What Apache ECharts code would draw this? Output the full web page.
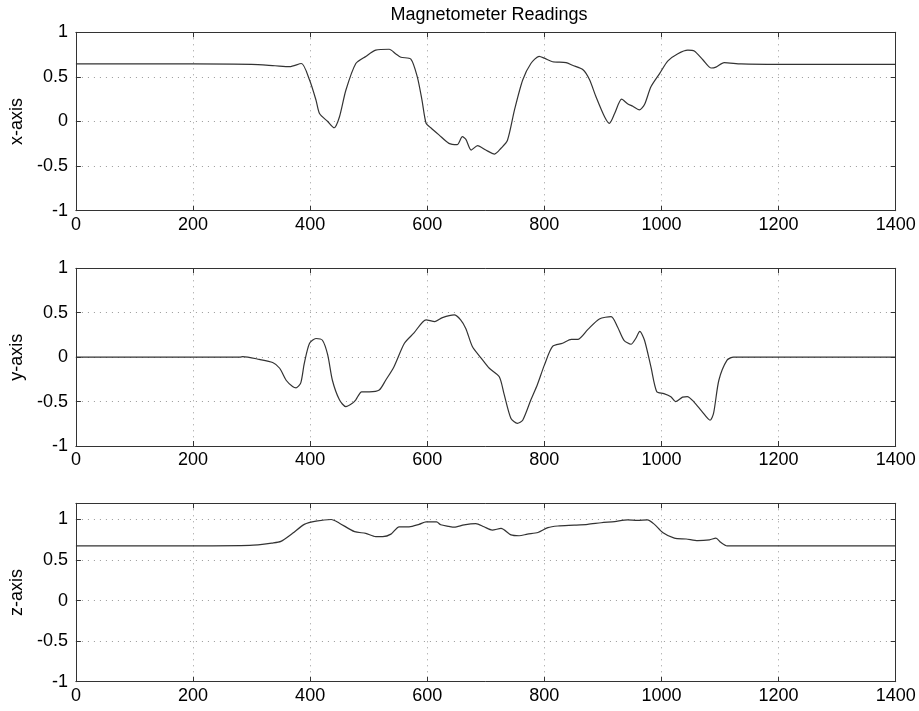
<!DOCTYPE html>
<html>
<head>
<meta charset="utf-8">
<script src="https://cdn.jsdelivr.net/npm/echarts@6/dist/echarts.min.js"></script>
<style>
html,body{margin:0;padding:0;background:#fff;}
#chart{width:919px;height:711px;}
</style>
</head>
<body>
<div id="chart"></div>
<script>
var titleText = "Magnetometer Readings";
var axisNames = ["x-axis", "y-axis", "z-axis"];
var xTicks = [0, 200, 400, 600, 800, 1000, 1200, 1400];

var bx = [[0,0.645],[100,0.645],[200,0.645],[300,0.64],[340,0.625],[365,0.615],[385,0.65],[399,0.465],[410,0.24],[416,0.09],[430,0.0],[441,-0.07],[450,0.05],[461,0.35],[478,0.65],[495,0.73],[512,0.80],[535,0.81],[546,0.76],[555,0.72],[572,0.70],[583,0.50],[591,0.24],[598,-0.02],[606,-0.07],[620,-0.15],[637,-0.245],[651,-0.26],[660,-0.17],[666,-0.2],[675,-0.32],[686,-0.27],[700,-0.32],[715,-0.365],[726,-0.30],[737,-0.21],[749,0.13],[763,0.465],[777,0.65],[791,0.73],[800,0.71],[814,0.67],[837,0.66],[848,0.63],[866,0.58],[877,0.47],[888,0.28],[903,0.05],[911,-0.02],[920,0.09],[932,0.25],[942,0.20],[951,0.17],[962,0.13],[971,0.19],[982,0.39],[997,0.54],[1011,0.68],[1028,0.76],[1045,0.80],[1056,0.79],[1071,0.69],[1085,0.60],[1093,0.61],[1107,0.66],[1136,0.645],[1200,0.64],[1300,0.64],[1400,0.64]];

var by = [[0,0],[100,0],[200,0],[280,0],[285,0.006],[313,-0.025],[336,-0.06],[348,-0.125],[359,-0.26],[370,-0.33],[376,-0.345],[384,-0.29],[390,-0.07],[399,0.156],[410,0.21],[421,0.19],[430,0.025],[438,-0.26],[450,-0.48],[461,-0.557],[472,-0.52],[478,-0.48],[488,-0.39],[501,-0.39],[518,-0.37],[529,-0.26],[543,-0.11],[561,0.156],[577,0.27],[598,0.42],[613,0.40],[626,0.445],[646,0.475],[657,0.42],[666,0.32],[677,0.12],[692,-0.01],[706,-0.125],[723,-0.22],[731,-0.41],[743,-0.69],[754,-0.745],[763,-0.71],[777,-0.48],[788,-0.31],[800,-0.09],[814,0.12],[831,0.156],[846,0.20],[857,0.20],[874,0.31],[894,0.43],[914,0.456],[925,0.34],[936,0.19],[948,0.145],[956,0.21],[963,0.29],[971,0.19],[982,-0.11],[992,-0.39],[1004,-0.41],[1016,-0.445],[1024,-0.50],[1036,-0.45],[1044,-0.445],[1055,-0.50],[1069,-0.61],[1083,-0.71],[1089,-0.63],[1098,-0.26],[1112,-0.034],[1123,0],[1200,0],[1300,0],[1400,0]];

var bz = [[0,0.675],[100,0.675],[200,0.675],[297,0.68],[336,0.71],[350,0.73],[370,0.83],[390,0.94],[410,0.98],[436,1.0],[450,0.955],[476,0.85],[495,0.83],[512,0.79],[524,0.79],[538,0.82],[552,0.91],[569,0.91],[586,0.94],[598,0.97],[616,0.97],[623,0.935],[637,0.915],[646,0.905],[663,0.935],[683,0.95],[697,0.91],[711,0.87],[726,0.89],[743,0.81],[757,0.80],[771,0.82],[789,0.84],[806,0.90],[823,0.92],[851,0.93],[874,0.94],[897,0.96],[920,0.975],[942,0.995],[959,0.99],[976,0.995],[988,0.94],[1002,0.84],[1022,0.77],[1042,0.76],[1062,0.74],[1082,0.75],[1093,0.77],[1101,0.72],[1112,0.675],[1200,0.675],[1300,0.675],[1400,0.675]];

var seriesData = [bx, by, bz];
var yMax = [1, 1, 1.2];

var FONT = "Liberation Sans";
var frameColor = "#333";
var gridDefs = [
  {left: 72.7, top: 32.3, width: 823, height: 178.4},
  {left: 72.7, top: 268.3, width: 823, height: 177.7},
  {left: 72.7, top: 503.3, width: 823, height: 178.4}
];

var xAxes = [], yAxes = [], series = [];
gridDefs.forEach(function (g, i) {
  xAxes.push({
    type: 'value', gridIndex: i, min: 0, max: 1400, interval: 200, position: 'bottom',
    axisLine: {show: true, onZero: false, lineStyle: {color: frameColor, width: 1}},
    axisTick: {show: true, inside: true, length: 5, lineStyle: {color: frameColor}},
    axisLabel: {color: '#000', fontFamily: FONT, fontSize: 18, margin: 5,
      formatter: function (v) { return xTicks.indexOf(v) >= 0 ? String(v) : ''; }},
    splitLine: {show: true, lineStyle: {color: '#999', type: [1, 5], width: 1}}
  });
  xAxes.push({
    type: 'value', gridIndex: i, min: 0, max: 1400, interval: 200, position: 'top',
    axisLine: {show: true, onZero: false, lineStyle: {color: frameColor, width: 1}},
    axisTick: {show: true, inside: true, length: 5, lineStyle: {color: frameColor}},
    axisLabel: {show: false}, splitLine: {show: false}
  });
  yAxes.push({
    type: 'value', gridIndex: i, min: -1, max: yMax[i], interval: 0.5, position: 'left',
    name: axisNames[i], nameLocation: 'middle', nameGap: 40, nameRotate: 90,
    nameTextStyle: {color: '#000', fontFamily: FONT, fontSize: 18},
    axisLine: {show: true, onZero: false, lineStyle: {color: frameColor, width: 1}},
    axisTick: {show: true, inside: true, length: 5, lineStyle: {color: frameColor}},
    axisLabel: {color: '#000', fontFamily: FONT, fontSize: 18, margin: 8, showMaxLabel: yMax[i] === 1,
      formatter: function (v) { return (Math.abs(v * 2 - Math.round(v * 2)) < 1e-9) ? String(v) : ''; }},
    splitLine: {show: true, lineStyle: {color: '#999', type: [1, 5], width: 1}}
  });
  yAxes.push({
    type: 'value', gridIndex: i, min: -1, max: yMax[i], interval: 0.5, position: 'right',
    axisLine: {show: true, onZero: false, lineStyle: {color: frameColor, width: 1}},
    axisTick: {show: true, inside: true, length: 5, lineStyle: {color: frameColor}},
    axisLabel: {show: false}, splitLine: {show: false}
  });
  series.push({
    type: 'line', xAxisIndex: i * 2, yAxisIndex: i * 2, data: seriesData[i],
    showSymbol: false, smooth: 0.25, silent: true,
    lineStyle: {color: '#333', width: 1.2}
  });
});

var chart = echarts.init(document.getElementById('chart'), null, {renderer: 'canvas'});
chart.setOption({
  backgroundColor: '#fff',
  animation: false,
  title: {text: titleText, left: 484, textAlign: 'center', top: 1,
    textStyle: {color: '#000', fontFamily: FONT, fontSize: 18, fontWeight: 'normal'}},
  grid: gridDefs,
  xAxis: xAxes,
  yAxis: yAxes,
  series: series
});
</script>
</body>
</html>
